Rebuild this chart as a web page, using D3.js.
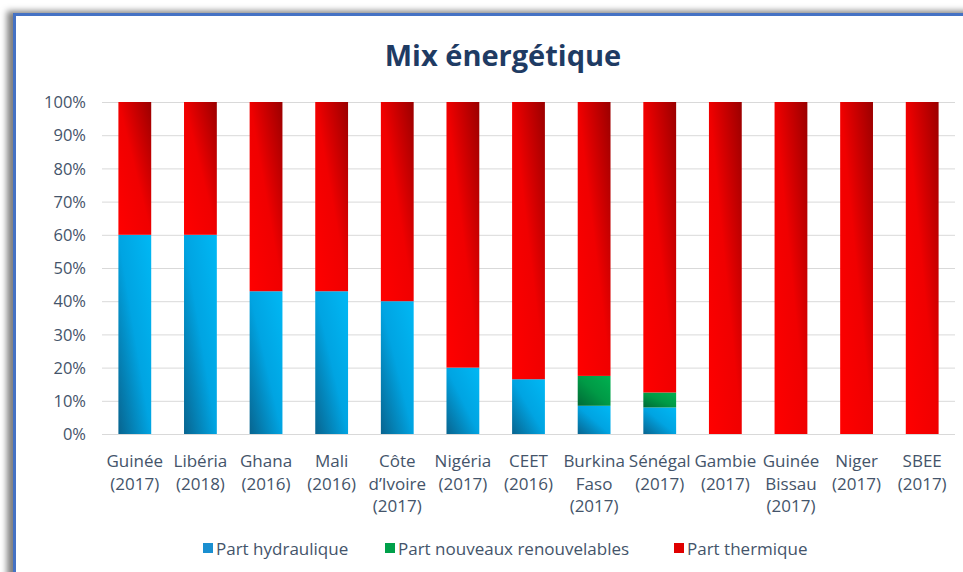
<!DOCTYPE html>
<html><head><meta charset="utf-8">
<script src="https://cdn.jsdelivr.net/npm/d3@7"></script>
<style>body{margin:0;background:#fff;}svg{display:block;}</style>
</head><body>
<svg id="chart" width="963" height="572"></svg>
<script>
const categories = [
  ["Guinée","(2017)"],["Libéria","(2018)"],["Ghana","(2016)"],["Mali","(2016)"],
  ["Côte","d\u2019Ivoire","(2017)"],["Nigéria","(2017)"],["CEET","(2016)"],
  ["Burkina","Faso","(2017)"],["Sénégal","(2017)"],["Gambie","(2017)"],
  ["Guinée","Bissau","(2017)"],["Niger","(2017)"],["SBEE","(2017)"]
];
const hydraulique = [60, 60, 43, 43, 40, 20, 16.5, 8.5, 8, 0, 0, 0, 0];
const renouvelables = [0, 0, 0, 0, 0, 0, 0, 9, 4.5, 0, 0, 0, 0];
const thermique = [40, 40, 57, 57, 60, 80, 83.5, 82.5, 87.5, 100, 100, 100, 100];
const seriesNames = ["Part hydraulique", "Part nouveaux renouvelables", "Part thermique"];
const yTicks = [0,10,20,30,40,50,60,70,80,90,100];

const svg = d3.select("#chart");
const font = "Open Sans, sans-serif";
const defs = svg.append("defs");

const f = defs.append("filter").attr("id","sh").attr("x","-10%").attr("y","-10%").attr("width","120%").attr("height","120%");
f.append("feDropShadow").attr("dx",-6).attr("dy",-2).attr("stdDeviation",3).attr("flood-color","#000").attr("flood-opacity",0.5);

svg.append("rect").attr("x",14.5).attr("y",14.5).attr("width",1000).attr("height",600)
  .attr("fill","#fff").attr("stroke","#4472C4").attr("stroke-width",3).attr("filter","url(#sh)");

function grad(id, c0, c1, c2){
  const g = defs.append("linearGradient").attr("id",id)
    .attr("x1",0).attr("y1",1).attr("x2",1).attr("y2",0);
  g.append("stop").attr("offset","0%").attr("stop-color",c0);
  g.append("stop").attr("offset","50%").attr("stop-color",c1);
  g.append("stop").attr("offset","100%").attr("stop-color",c2);
}
grad("gBlue","#08648F","#00A4E2","#00B8F4");
grad("gGreen","#006A36","#009A46","#00B050");
grad("gRed","#FF0000","#F00000","#9A0000");
const fills = ["url(#gBlue)","url(#gGreen)","url(#gRed)"];
const legendColors = ["#1A8FD0","#00A04A","#E00000"];

const x = d3.scaleBand().domain(d3.range(categories.length)).range([102,955]).paddingInner(0.5).paddingOuter(0.25);
const y = d3.scaleLinear().domain([0,100]).range([434,102]);

svg.append("text").attr("x",503).attr("y",66).attr("text-anchor","middle")
  .attr("font-family",font).attr("font-weight",700).attr("font-size",29)
  .attr("fill","#1F3B63").text("Mix énergétique");

svg.append("g").selectAll("line").data(yTicks).join("line")
  .attr("x1",102).attr("x2",955).attr("y1",d=>y(d)+0.5).attr("y2",d=>y(d)+0.5)
  .attr("stroke","#D9D9D9").attr("stroke-width",1);

const yAxis = d3.axisLeft(y).tickValues(yTicks).tickFormat(d=>d+"%").tickSize(0).tickPadding(0);
const ga = svg.append("g").attr("transform","translate(86,0)").call(yAxis);
ga.select(".domain").remove();
ga.selectAll("text").attr("font-family",font).attr("font-size",16.5).attr("fill","#44546A").attr("dy","0.35em");

const data = categories.map((c,i)=>({i, h:hydraulique[i], r:renouvelables[i], t:thermique[i]}));
const stack = d3.stack().keys(["h","r","t"])(data);
svg.append("g").selectAll("g").data(stack).join("g")
  .attr("fill",(d,k)=>fills[k])
  .selectAll("rect").data(d=>d.filter(p=>p[1]-p[0]>0)).join("rect")
  .attr("x",d=>x(d.data.i)).attr("width",x.bandwidth())
  .attr("y",d=>y(d[1])).attr("height",d=>y(d[0])-y(d[1]));

const xl = svg.append("g");
categories.forEach((lines,i)=>{
  const t = xl.append("text").attr("text-anchor","middle")
    .attr("font-family",font).attr("font-size",17).attr("fill","#44546A");
  lines.forEach((s,j)=>t.append("tspan").attr("x",x(i)+x.bandwidth()/2).attr("y",467+j*22.5).text(s));
});

const lx = [203, 385, 674];
seriesNames.forEach((n,k)=>{
  svg.append("rect").attr("x",lx[k]).attr("y",543).attr("width",10).attr("height",10).attr("fill",legendColors[k]);
  svg.append("text").attr("x",lx[k]+13).attr("y",555).attr("font-family",font).attr("font-size",17)
    .attr("fill","#44546A").text(n);
});
</script>
</body></html>
